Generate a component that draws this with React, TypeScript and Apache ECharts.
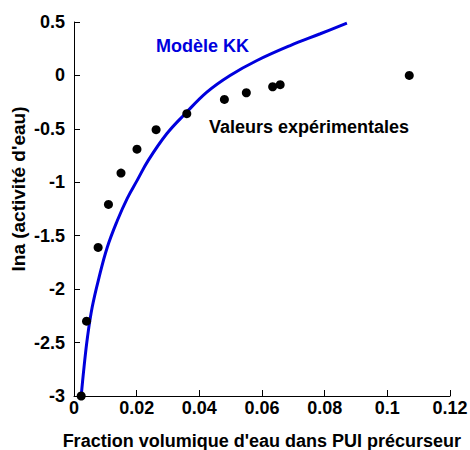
import React, { useEffect, useRef } from "react";
import * as echarts from "echarts";

const xTicks = [0, 0.02, 0.04, 0.06, 0.08, 0.1, 0.12];
const yTicks = [-3, -2.5, -2, -1.5, -1, -0.5, 0, 0.5];

const expX = [0.0023, 0.004, 0.0077, 0.011, 0.015, 0.0201, 0.0262, 0.036, 0.048, 0.055, 0.0634, 0.0658, 0.107];
const expY = [-3.0, -2.3, -1.61, -1.207, -0.914, -0.69, -0.508, -0.358, -0.225, -0.162, -0.106, -0.087, 0.0];

// KK model curve
const kkX = [0.0023, 0.0032, 0.0043, 0.0058, 0.008, 0.0106, 0.0138, 0.017, 0.0202, 0.0237, 0.0296, 0.0355, 0.0424, 0.0498, 0.0584, 0.069, 0.0786, 0.0871];
const kkY = [-3.0, -2.73, -2.45, -2.17, -1.89, -1.61, -1.36, -1.15, -0.98, -0.795, -0.546, -0.358, -0.156, 0.0, 0.14, 0.28, 0.39, 0.49];

const modelLabel = "Modèle KK";
const expLabel = "Valeurs expérimentales";
const xTitle = "Fraction volumique d'eau dans PUI précurseur";
const yTitle = "lna (activité d'eau)";

export default function App() {
  const ref = useRef<HTMLDivElement>(null);
  useEffect(() => {
    document.body.style.margin = "0";
    if (!ref.current) return;
    const chart = echarts.init(ref.current, null, { renderer: "svg" });
    const font = "'Liberation Sans', Arial, Helvetica, sans-serif";
    chart.setOption({
      animation: false,
      backgroundColor: "#ffffff",
      textStyle: { fontFamily: font },
      grid: {
        left: 74,
        right: 20,
        top: 22,
        bottom: 54,
        containLabel: false,
        outerBoundsMode: "none",
      },
      xAxis: {
        type: "value",
        min: xTicks[0],
        max: xTicks[xTicks.length - 1],
        interval: 0.02,
        axisLine: { show: true, onZero: false, lineStyle: { color: "#000", width: 1 } },
        axisTick: { show: true, inside: true, length: 6, lineStyle: { color: "#000" } },
        axisLabel: { color: "#000", fontWeight: "bold", fontSize: 18, margin: 3, fontFamily: font },
        splitLine: { show: false },
      },
      yAxis: {
        type: "value",
        min: yTicks[0],
        max: yTicks[yTicks.length - 1],
        interval: 0.5,
        axisLine: { show: true, onZero: false, lineStyle: { color: "#000", width: 1 } },
        axisTick: { show: true, inside: true, length: 6, lineStyle: { color: "#000" } },
        axisLabel: { color: "#000", fontWeight: "bold", fontSize: 18, margin: 9, fontFamily: font },
        splitLine: { show: false },
      },
      series: [
        {
          type: "line",
          data: kkX.map((x, i) => [x, kkY[i]]),
          smooth: 0.4,
          showSymbol: false,
          lineStyle: { color: "#0000dd", width: 3 },
          z: 2,
        },
        {
          type: "scatter",
          data: expX.map((x, i) => [x, expY[i]]),
          symbolSize: 9,
          itemStyle: { color: "#000", opacity: 1 },
          z: 3,
        },
      ],
      graphic: [
        {
          type: "text",
          x: 18,
          y: 189,
          rotation: Math.PI / 2,
          style: {
            text: yTitle,
            fill: "#000",
            font: `bold 19px ${font}`,
            align: "center",
            verticalAlign: "middle",
          },
        },
        {
          type: "text",
          x: 461,
          y: 441,
          style: {
            text: xTitle,
            fill: "#000",
            font: `bold 18px ${font}`,
            align: "right",
            verticalAlign: "middle",
          },
        },
        {
          type: "text",
          x: 156,
          y: 46,
          style: { text: modelLabel, fill: "#0000dd", font: `bold 18px ${font}`, verticalAlign: "middle" },
        },
        {
          type: "text",
          x: 209,
          y: 127,
          style: { text: expLabel, fill: "#000", font: `bold 18px ${font}`, verticalAlign: "middle" },
        },
      ],
    });
    return () => chart.dispose();
  }, []);
  return <div ref={ref} style={{ width: 470, height: 450 }} />;
}
